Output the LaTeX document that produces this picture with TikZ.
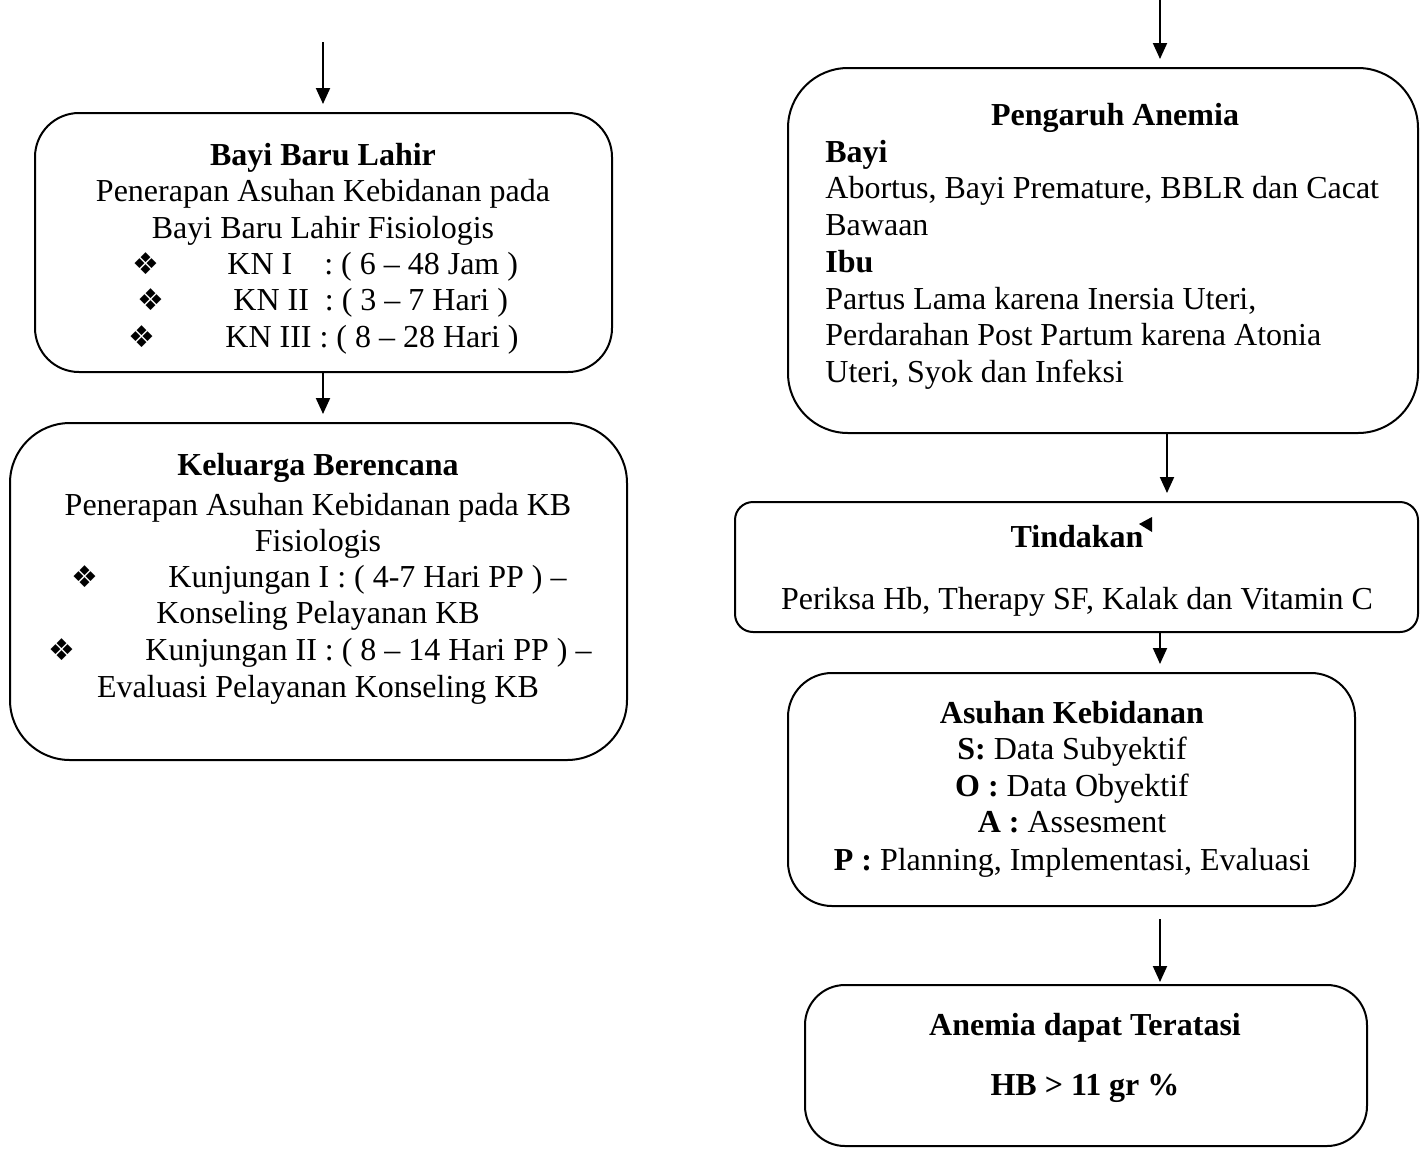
\documentclass[tikz,border=0pt]{standalone}
\usepackage{fontspec}
\setmainfont{Liberation Serif}
\newfontfamily\symfont{DejaVu Sans}
\usetikzlibrary{arrows.meta,fit}
\tikzset{
  box/.style={draw, line width=1pt, inner sep=0pt},
  arr/.style={-{Triangle[width=7pt,length=8pt]}, line width=1pt, shorten >=4pt},
  txt/.style={anchor=base, inner sep=0pt},
  ttl/.style={txt, font=\bfseries},
  bul/.style={txt, font=\symfont\fontsize{15}{15}\selectfont},
}
\begin{document}
\fontsize{16}{18}\selectfont
\begin{tikzpicture}[x=0.5pt, y=-0.5pt]
  \useasboundingbox (0,0) rectangle (1426,1148);

  % boxes
  \node[box, rounded corners=22pt, fit={(35,113) (612,372)}] (bbl) {};
  \node[box, rounded corners=30pt, fit={(10,423) (627,760)}] (kb) {};
  \node[box, rounded corners=30pt, fit={(788,68) (1418,433)}] (pa) {};
  \node[box, rounded corners=9pt, fit={(735,502) (1418,632)}] (td) {};
  \node[box, rounded corners=22pt, fit={(788,673) (1355,906)}] (ak) {};
  \node[box, rounded corners=20pt, fit={(805,985) (1367,1146)}] (at) {};

  % arrows
  \coordinate (inL) at (323,42);
  \coordinate (inR) at (1160,0);
  \coordinate (cR) at (1167,0);
  \draw[arr] (inL) -- (bbl.north -| inL);
  \draw[arr] (bbl.south -| inL) -- (kb.north -| inL);
  \draw[arr] (inR) -- (pa.north -| inR);
  \draw[arr] (pa.south -| cR) -- (td.north -| cR);
  \draw[arr] (td.south -| inR) -- (ak.north -| inR);
  \draw[arr, shorten <=6pt, shorten >=1pt] (ak.south -| inR) -- (at.north -| inR);

  % Bayi Baru Lahir
  \node[ttl] (t1) at (323,165) {Bayi Baru Lahir};
  \node[txt] (t1a) at (323,201) {Penerapan Asuhan Kebidanan pada};
  \node[txt] (t1b) at (323,238) {Bayi Baru Lahir Fisiologis};
  \foreach \x/\y in {146/274, 151/310, 142/347}
    \node[bul] at (\x,\y) {❖};
  \node[txt, anchor=base west] (kn1) at (227,274) {KN I\ \ \ \ : ( 6 – 48 Jam )};
  \node[txt, anchor=base west] (kn2) at (233,310) {KN II\ \ : ( 3 – 7 Hari )};
  \node[txt, anchor=base west] (kn3) at (225,347) {KN III : ( 8 – 28 Hari )};

  % Keluarga Berencana
  \node[ttl] (t2) at (318,475) {Keluarga Berencana};
  \node[txt] (t2a) at (318,515) {Penerapan Asuhan Kebidanan pada KB};
  \node[txt] (t2b) at (318,551) {Fisiologis};
  \node[bul] at (85,587) {❖};
  \node[txt, anchor=base west] (k1) at (168,587) {Kunjungan I : ( 4-7 Hari PP ) –};
  \node[txt] (t2c) at (318,623) {Konseling Pelayanan KB};
  \node[bul] at (62,660) {❖};
  \node[txt, anchor=base west] (k2) at (145,660) {Kunjungan II : ( 8 – 14 Hari PP ) –};
  \node[txt] (t2d) at (318,697) {Evaluasi Pelayanan Konseling KB};

  % Pengaruh Anemia
  \node[ttl] (t3) at (1115,125) {Pengaruh Anemia};
  \node[ttl, anchor=base west] (t3a) at (825,162) {Bayi};
  \node[txt, anchor=base west] (t3b) at (825,198) {Abortus, Bayi Premature, BBLR dan Cacat};
  \node[txt, anchor=base west] (t3c) at (825,235) {Bawaan};
  \node[ttl, anchor=base west] (t3d) at (825,272) {Ibu};
  \node[txt, anchor=base west] (t3e) at (825,309) {Partus Lama karena Inersia Uteri,};
  \node[txt, anchor=base west] (t3f) at (825,345) {Perdarahan Post Partum karena Atonia};
  \node[txt, anchor=base west] (t3g) at (825,382) {Uteri, Syok dan Infeksi};

  % Tindakan
  \node[ttl] (t4) at (1077,547) {Tindakan};
  \fill (1139,524) -- (1152,517) -- (1152,532) -- cycle;
  \node[txt] (t4a) at (1077,609) {Periksa Hb, Therapy SF, Kalak dan Vitamin C};

  % Asuhan Kebidanan
  \node[ttl] (t5) at (1072,723) {Asuhan Kebidanan};
  \node[txt] (t5a) at (1072,759) {\textbf{S:} Data Subyektif};
  \node[txt] (t5b) at (1072,796) {\textbf{O :} Data Obyektif};
  \node[txt] (t5c) at (1072,832) {\textbf{A :} Assesment};
  \node[txt] (t5d) at (1072,870) {\textbf{P :} Planning, Implementasi, Evaluasi};

  % Anemia dapat Teratasi
  \node[ttl] (t6) at (1085,1035) {Anemia dapat Teratasi};
  \node[ttl] (t6a) at (1085,1095) {HB > 11 gr \%};
\end{tikzpicture}
\end{document}
